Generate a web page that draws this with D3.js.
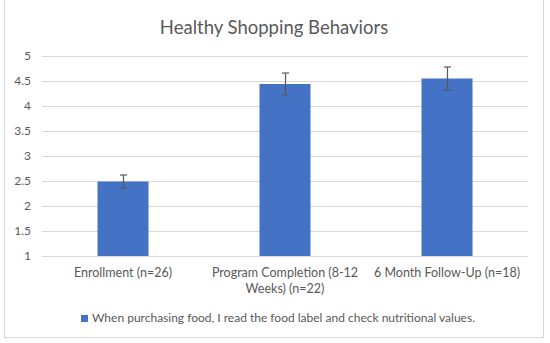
<!DOCTYPE html>
<html><head><meta charset="utf-8">
<script src="https://cdn.jsdelivr.net/npm/d3@7/dist/d3.min.js"></script>
<style>body{margin:0;background:#fff;}svg{display:block;}</style>
</head><body><svg id="c" width="550" height="343"></svg>
<script>
const categories = [["Enrollment (n=26)"], ["Program Completion (8-12", "Weeks) (n=22)"], ["6 Month Follow-Up (n=18)"]];
const values = [2.49, 4.44, 4.55];
const errors = [0.13, 0.22, 0.23];
const yTicks = [1, 1.5, 2, 2.5, 3, 3.5, 4, 4.5, 5];
const seriesName = "When purchasing food, I read the food label and check nutritional values.";
const title = "Healthy Shopping Behaviors";

const svg = d3.select("#c");
const font = "Lato, 'Open Sans', sans-serif";
const W = 550, H = 343;
const m = {left: 42, right: 22, top: 56, bottom: 87};

svg.append("rect").attr("x", 4.5).attr("y", -2).attr("width", 539).attr("height", 339.5)
  .attr("fill", "#fff").attr("stroke", "#d9d9d9");

const x = d3.scaleBand().domain(d3.range(values.length)).range([m.left, W - m.right])
  .paddingInner(0.685).paddingOuter(0.3425);
const y = d3.scaleLinear().domain([1, 5]).range([256, 56]);

svg.append("g").selectAll("line").data(yTicks).join("line")
  .attr("x1", m.left).attr("x2", W - m.right)
  .attr("y1", d => Math.round(y(d)) + 0.5).attr("y2", d => Math.round(y(d)) + 0.5)
  .attr("stroke", "#d9d9d9").attr("stroke-width", 1);

svg.append("g").selectAll("text").data(yTicks).join("text")
  .attr("x", 31).attr("y", d => y(d)).attr("dy", "0.35em").attr("text-anchor", "end")
  .attr("font-family", font).attr("font-size", 12).attr("fill", "#595959")
  .text(d => d);

svg.append("g").selectAll("rect").data(values).join("rect")
  .attr("x", (d, i) => x(i)).attr("width", x.bandwidth())
  .attr("y", d => y(d)).attr("height", d => y(1) - y(d))
  .attr("fill", "#4472c4");

const eb = svg.append("g").attr("stroke", "#595959").attr("stroke-width", 1.2);
values.forEach((v, i) => {
  const cx = Math.round(x(i) + x.bandwidth() / 2) + 0.5;
  const t = y(v + errors[i]), b = y(v - errors[i]);
  eb.append("line").attr("x1", cx).attr("x2", cx).attr("y1", t).attr("y2", b);
  eb.append("line").attr("x1", cx - 3.5).attr("x2", cx + 3.5).attr("y1", t).attr("y2", t);
  eb.append("line").attr("x1", cx - 3.5).attr("x2", cx + 3.5).attr("y1", b).attr("y2", b);
});

svg.append("line").attr("x1", m.left).attr("x2", W - m.right)
  .attr("y1", 256.5).attr("y2", 256.5).attr("stroke", "#d9d9d9");

const xl = svg.append("g");
categories.forEach((lines, i) => {
  const t = xl.append("text").attr("x", x(i) + x.bandwidth() / 2).attr("y", 277)
    .attr("text-anchor", "middle").attr("font-family", font).attr("font-size", 12.5).attr("fill", "#595959");
  lines.forEach((l, j) => t.append("tspan").attr("x", x(i) + x.bandwidth() / 2).attr("dy", j ? 16 : 0).text(l));
});

svg.append("text").attr("x", 274).attr("y", 34).attr("text-anchor", "middle")
  .attr("font-family", font).attr("font-size", 18.5).attr("fill", "#595959").text(title);

svg.append("rect").attr("x", 81).attr("y", 315).attr("width", 7).attr("height", 7).attr("fill", "#4472c4");
svg.append("text").attr("x", 92).attr("y", 322).attr("font-family", font).attr("font-size", 12)
  .attr("fill", "#595959").text(seriesName);
</script></body></html>
